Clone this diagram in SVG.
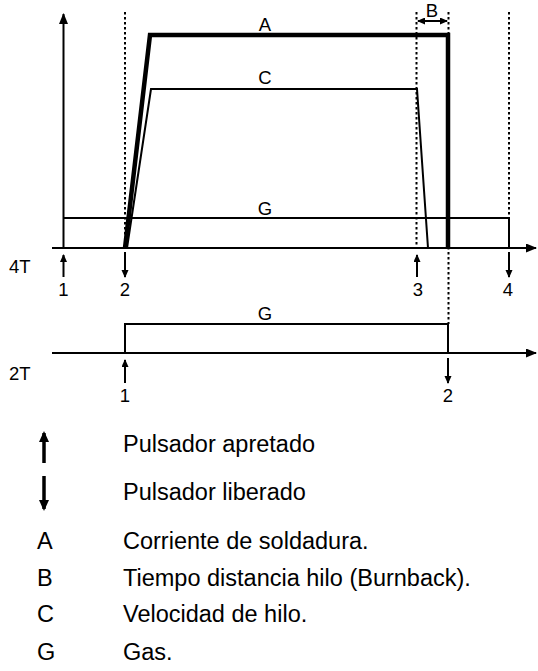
<svg xmlns="http://www.w3.org/2000/svg" width="538" height="671" viewBox="0 0 538 671">
<style>
text{font-family:"Liberation Sans",Arial,sans-serif;fill:#000}
.lbl{font-size:18.5px}
.leg{font-size:23.5px}
.ln{fill:none;stroke:#000;stroke-width:2}
.dot{fill:none;stroke:#000;stroke-width:2;stroke-dasharray:2.5,2.5}
</style>
<defs>
<marker id="ah" markerUnits="userSpaceOnUse" markerWidth="12" markerHeight="10" refX="10" refY="4.5" orient="auto"><path d="M0,0 L11,4.5 L0,9 Z" fill="#000"/></marker>
<marker id="sh" markerUnits="userSpaceOnUse" markerWidth="9" markerHeight="8" refX="7" refY="3.5" orient="auto"><path d="M0,0 L8,3.5 L0,7 Z" fill="#000"/></marker>
<marker id="sh2" markerUnits="userSpaceOnUse" markerWidth="9" markerHeight="8" refX="1" refY="3.5" orient="auto"><path d="M8,0 L0,3.5 L8,7 Z" fill="#000"/></marker>
<marker id="bh" markerUnits="userSpaceOnUse" markerWidth="12" markerHeight="12" refX="9" refY="5" orient="auto"><path d="M0,0 L11,5 L0,10 Z" fill="#000"/></marker>
</defs>
<g id="connectors">
<line class="ln" x1="63.5" y1="248" x2="63.5" y2="14" marker-end="url(#ah)"/>
<line class="ln" x1="52" y1="248" x2="536" y2="248" marker-end="url(#ah)"/>
<line class="ln" x1="52" y1="353" x2="536" y2="353" marker-end="url(#ah)"/>
<line class="dot" x1="125" y1="12" x2="125" y2="248"/>
<line class="dot" x1="416.5" y1="12" x2="416.5" y2="248"/>
<line class="dot" x1="448.5" y1="12" x2="448.5" y2="324"/>
<line class="dot" x1="509" y1="12" x2="509" y2="248"/>
<line class="ln" x1="418" y1="21" x2="447" y2="21" marker-start="url(#sh2)" marker-end="url(#sh)"/>
</g>
<g id="curve-A"><polyline points="125,248 150,35 448,35 448,248" fill="none" stroke="#000" stroke-width="4.5" stroke-linejoin="miter"/><text class="lbl" x="265" y="31" text-anchor="middle">A</text></g>
<g id="curve-C"><polyline points="127,248 151,89 417,89 428,248" class="ln"/><text class="lbl" x="265" y="84" text-anchor="middle">C</text></g>
<g id="curve-G4"><polyline points="63.5,218 509,218 509,248" class="ln"/><text class="lbl" x="265" y="215" text-anchor="middle">G</text></g>
<g id="label-B"><text class="lbl" x="432" y="17" text-anchor="middle">B</text></g>
<g id="row-4T">
<text class="lbl" x="9" y="273">4T</text>
<line class="ln" x1="63.5" y1="277" x2="63.5" y2="255" marker-end="url(#sh)"/>
<line class="ln" x1="125" y1="252" x2="125" y2="277" marker-end="url(#sh)"/>
<line class="ln" x1="417" y1="277" x2="417" y2="255" marker-end="url(#sh)"/>
<line class="ln" x1="509" y1="252" x2="509" y2="277" marker-end="url(#sh)"/>
<text class="lbl" x="63.5" y="296" text-anchor="middle">1</text>
<text class="lbl" x="125" y="296" text-anchor="middle">2</text>
<text class="lbl" x="418" y="296" text-anchor="middle">3</text>
<text class="lbl" x="508" y="296" text-anchor="middle">4</text>
</g>
<g id="row-2T">
<polyline points="125,353 125,324 448,324 448,353" class="ln"/>
<text class="lbl" x="265" y="320" text-anchor="middle">G</text>
<text class="lbl" x="9" y="380">2T</text>
<line class="ln" x1="125" y1="383" x2="125" y2="360" marker-end="url(#sh)"/>
<line class="ln" x1="448" y1="358" x2="448" y2="383" marker-end="url(#sh)"/>
<text class="lbl" x="125" y="402" text-anchor="middle">1</text>
<text class="lbl" x="448" y="402" text-anchor="middle">2</text>
</g>
<g id="legend">
<line x1="44" y1="463" x2="44" y2="433" stroke="#000" stroke-width="3.5" marker-end="url(#bh)"/>
<text class="leg" x="123" y="451.5">Pulsador apretado</text>
<line x1="44" y1="476" x2="44" y2="509" stroke="#000" stroke-width="3.5" marker-end="url(#bh)"/>
<text class="leg" x="123" y="500">Pulsador liberado</text>
<text class="leg" x="37" y="549">A</text><text class="leg" x="123" y="549">Corriente de soldadura.</text>
<text class="leg" x="37" y="586">B</text><text class="leg" x="123" y="586">Tiempo distancia hilo (Burnback).</text>
<text class="leg" x="37" y="622">C</text><text class="leg" x="123" y="622">Velocidad de hilo.</text>
<text class="leg" x="37" y="660">G</text><text class="leg" x="123" y="660">Gas.</text>
</g>
</svg>
